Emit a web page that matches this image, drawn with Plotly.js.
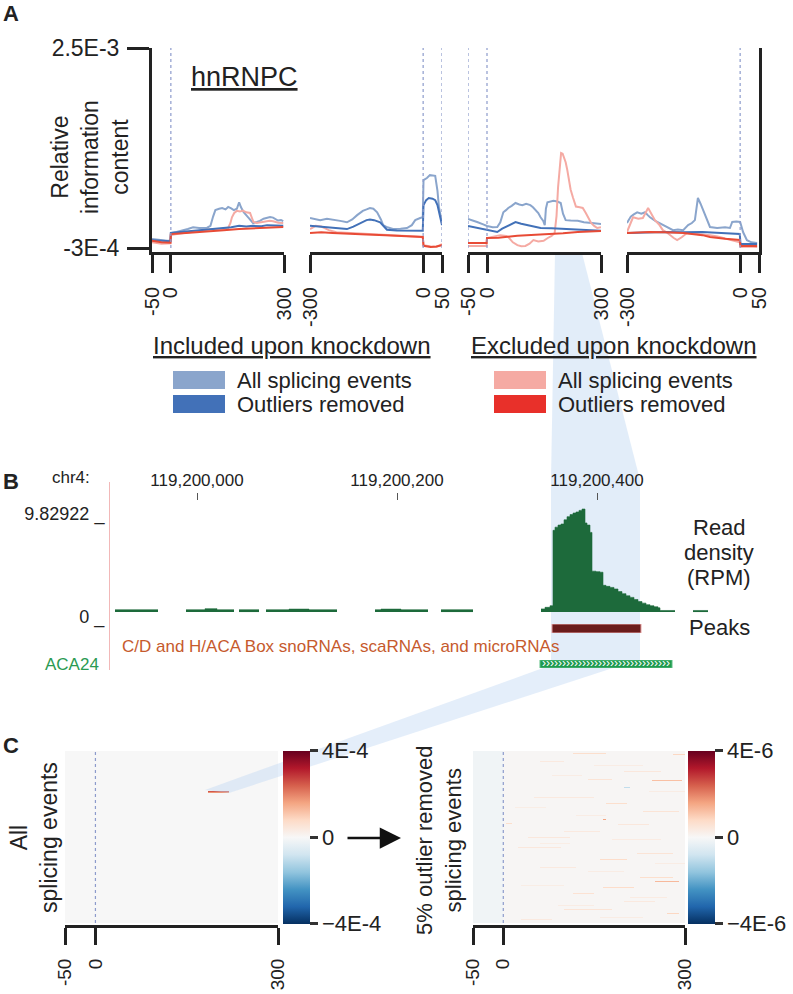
<!DOCTYPE html>
<html>
<head>
<meta charset="utf-8">
<script src="https://cdn.plot.ly/plotly-3.0.1.min.js"></script>
<style>html,body{margin:0;padding:0;background:#fff}#chart{width:793px;height:994px}</style>
</head>
<body>
<div id="chart"></div>
<script>
// ================= DATA =================
// ---- Panel A: relative information content (values in units of 1E-4) ----
const A_ticks1 = [-50, 0, 300];
const A_ticks2 = [-300, 0, 50];
const A_yTickVals = [-3, 25];
const A_yTickText = ['-3E-4', '2.5E-3'];

// Subplot 1 (-50..300)
const A1_incAll_x = [-50, -30, -10, -1, 0, 15, 32, 45, 59, 75, 96, 105, 112, 118, 128, 136, 145, 152, 160, 167, 175, 181, 186, 193, 205, 212, 218, 228, 236, 246, 255, 263, 271, 278, 284, 292, 298];
const A1_incAll_y = [-1.75, -1.9, -2.0, -2.0, -0.9, -0.75, -0.55, -0.35, -0.1, -0.2, -0.15, 0.1, 1.4, 2.3, 2.5, 2.6, 2.4, 2.75, 2.55, 2.3, 2.5, 3.4, 2.7, 2.0, 1.3, 0.9, 0.5, 0.65, 0.8, 1.1, 1.2, 1.35, 1.25, 1.0, 0.85, 0.9, 0.75];
const A1_excAll_x = [-50, -25, -1, 0, 20, 52, 80, 112, 140, 152, 158, 162, 168, 175, 183, 191, 200, 210, 215, 219, 228, 236, 250, 262, 271, 285, 298];
const A1_excAll_y = [-2.2, -2.4, -2.35, -1.2, -1.0, -0.75, -0.5, -0.35, -0.3, -0.2, 0.5, 1.3, 1.9, 2.2, 2.1, 2.25, 2.0, 1.9, 1.2, 0.65, 0.5, 0.55, 0.7, 0.8, 0.75, 0.55, 0.5];
const A1_incOut_x = [-50, -25, -1, 0, 30, 59, 90, 134, 160, 181, 200, 218, 240, 255, 275, 298];
const A1_incOut_y = [-1.9, -2.0, -2.05, -0.9, -0.75, -0.6, -0.45, -0.3, -0.1, 0.1, 0.0, 0.1, 0.05, 0.2, 0.15, 0.1];
const A1_excOut_x = [-50, -25, -1, 0, 40, 96, 140, 181, 230, 270, 298];
const A1_excOut_y = [-2.0, -2.2, -2.25, -1.05, -0.9, -0.62, -0.5, -0.35, -0.25, -0.1, -0.05];

// Subplot 2 (-300..50)
const A2_incAll_x = [-300, -285, -273, -255, -239, -220, -202, -188, -175, -160, -150, -141, -132, -122, -112, -106, -95, -80, -60, -43, -30, -21, -8, -1, 1, 10, 18, 25, 32, 38, 42, 50];
const A2_incAll_y = [1.2, 1.0, 0.9, 1.1, 1.0, 0.8, 0.6, 1.0, 1.6, 2.2, 2.4, 2.6, 2.5, 2.0, 1.0, 0.2, -0.1, -0.35, -0.3, -0.2, 0.2, 0.9, 1.2, 1.3, 6.5, 6.8, 7.2, 7.1, 7.1, 5.0, 2.7, 0.5];
const A2_excAll_x = [-300, -285, -270, -250, -230, -200, -150, -100, -50, -20, -1, 1, 20, 35, 50];
const A2_excAll_y = [-0.35, 0.1, 0.0, -0.5, -0.8, -0.9, -1.05, -1.2, -1.35, -1.4, -1.45, -2.6, -2.8, -2.85, -2.45];
const A2_incOut_x = [-300, -260, -230, -202, -185, -167, -150, -141, -130, -114, -104, -96, -70, -43, -20, -8, -1, 1, 8, 15, 25, 32, 38, 44, 50];
const A2_incOut_y = [0.1, -0.1, -0.2, -0.35, 0.0, 0.5, 0.9, 1.0, 0.9, 0.6, 0.0, -0.45, -0.55, -0.6, -0.55, -0.6, -0.6, 3.0, 3.7, 4.0, 3.9, 3.7, 3.0, 1.6, 0.2];
const A2_excOut_x = [-300, -270, -240, -200, -150, -100, -50, -20, -1, 1, 20, 35, 50];
const A2_excOut_y = [-0.9, -0.8, -0.9, -0.95, -1.1, -1.2, -1.3, -1.4, -1.45, -2.7, -2.85, -2.8, -2.6];

// Subplot 3 (-50..300)
const A3_incAll_x = [-50, -40, -26, -10, 0, 15, 27, 35, 43, 50, 56, 65, 75, 85, 93, 103, 114, 121, 128, 135, 141, 148, 152, 155, 159, 168, 175, 185, 194, 200, 207, 220, 239, 255, 266, 282, 300];
const A3_incAll_y = [1.06, 0.9, 0.64, 0.3, 0.08, -0.1, -0.06, 0.6, 2.0, 2.3, 2.6, 2.9, 3.3, 3.1, 3.0, 3.2, 3.0, 2.7, 2.3, 1.9, 1.3, 0.8, 0.2, 2.5, 3.4, 3.5, 3.6, 3.5, 3.3, 1.8, 0.9, 0.85, 0.8, 0.6, 0.5, 0.45, 0.35];
const A3_excAll_x = [-50, -25, -1, 0, 20, 35, 50, 56, 68, 80, 90, 101, 112, 122, 135, 149, 160, 170, 178, 183, 187, 191, 195, 199, 203, 207, 211, 215, 220, 226, 234, 244, 252, 260, 268, 274, 282, 290, 300];
const A3_excAll_y = [-2.72, -2.7, -2.72, -1.6, -1.4, -1.2, -1.3, -1.46, -2.2, -2.6, -2.75, -2.72, -2.4, -1.9, -2.1, -2.0, -1.6, -1.3, -0.9, 1.5, 5.5, 8.5, 10.3, 10.2, 9.7, 9.0, 8.0, 6.8, 5.2, 4.1, 2.8, 2.7, 2.6, 1.9, 1.2, 0.5, 0.1, -0.2, -0.1];
const A3_incOut_x = [-50, -25, 0, 15, 27, 40, 53, 65, 75, 90, 106, 125, 141, 170, 207, 250, 300];
const A3_incOut_y = [0.08, -0.2, -0.48, -0.6, -0.76, -0.3, 0.08, 0.4, 0.64, 0.4, 0.2, 0.0, -0.2, -0.25, -0.34, -0.45, -0.6];
const A3_excOut_x = [-50, -25, -1, 0, 30, 80, 120, 168, 200, 239, 270, 300];
const A3_excOut_y = [-2.3, -2.3, -2.3, -1.6, -1.55, -1.3, -1.2, -1.04, -0.95, -0.76, -0.7, -0.62];

// Subplot 4 (-300..50)
const A4_incAll_x = [-300, -290, -282, -273, -262, -252, -245, -239, -225, -205, -190, -178, -165, -151, -138, -128, -120, -112, -105, -98, -88, -80, -61, -40, -27, -21, -10, 0, 8, 18, 30, 45];
const A4_incAll_y = [0.5, 1.4, 1.7, 2.0, 1.8, 2.0, 1.6, 1.3, 0.8, 0.2, -0.2, -0.5, -0.4, -0.5, 0.2, 0.5, 0.9, 4.0, 3.2, 2.3, 0.8, -0.06, -0.2, -0.1, -0.2, 0.64, 0.7, 0.64, -0.8, -1.9, -2.2, -2.3];
const A4_excAll_x = [-300, -290, -284, -270, -258, -244, -235, -226, -215, -205, -195, -186, -176, -167, -155, -141, -120, -100, -80, -60, -45, -25, -8, -1, 1, 20, 45];
const A4_excAll_y = [-0.76, 0.5, 1.3, 1.1, 1.2, 2.6, 1.8, 0.9, 0.3, -0.5, -0.8, -1.2, -1.6, -1.9, -1.5, -0.9, -1.0, -1.1, -1.2, -1.4, -1.6, -1.9, -2.16, -2.2, -2.86, -2.8, -2.86];
const A4_incOut_x = [-300, -250, -200, -150, -100, -50, -20, -1, 1, 20, 45];
const A4_incOut_y = [-0.9, -0.8, -0.76, -0.8, -0.76, -0.9, -1.04, -1.05, -2.44, -2.4, -2.44];
const A4_excOut_x = [-300, -270, -240, -200, -150, -100, -80, -40, -1, 1, 20, 45];
const A4_excOut_y = [-0.9, -0.8, -0.76, -0.8, -0.9, -1.2, -1.46, -1.7, -1.88, -2.72, -2.7, -2.72];

const legendGroups = ['Included upon knockdown', 'Excluded upon knockdown'];
const legendItems = ['All splicing events', 'Outliers removed'];

// ---- Panel B: genome browser (positions are offsets from chr4:119,200,000; RPM) ----
const chromStart = 119200000;
const B_tickOffsets = [0, 200, 400];
const B_tickText = ['119,200,000', '119,200,200', '119,200,400'];
const B_yMax = 9.82922;
const densOffset = [-82, -39, null, -11, 8, 20, 37, null, 42, 62, null, 69, 92, 112, 140, null, 178, 184, 204, 231, null, 244, 276, null,
  344, 348, 353, 356, 358, 361, 364, 367, 370, 373, 376, 379, 382, 385, 388, 390, 393, 395, 399, 403, 406, 409, 413, 417, 421, 425, 429, 433, 437, 441, 445, 449, 453, 457, 461, 463, 478, null, 496, 511];
const densRPM = [0.22, 0.22, null, 0.22, 0.32, 0.22, 0.22, null, 0.22, 0.22, null, 0.22, 0.28, 0.22, 0.22, null, 0.22, 0.28, 0.22, 0.22, null, 0.22, 0.22, null,
  0.3, 0.45, 0.6, 7.8, 8.1, 8.3, 8.4, 8.8, 9.1, 9.3, 9.45, 9.55, 9.7, 9.83, 8.5, 8.3, 7.6, 3.9, 3.85, 3.8, 2.55, 2.45, 2.35, 2.2, 1.95, 1.75, 1.55, 1.4, 1.2, 1.0, 0.85, 0.7, 0.6, 0.5, 0.4, 0.15, 0.15, null, 0.15, 0.15];
const peakStart = 355, peakEnd = 444;
const geneStart = 343, geneEnd = 475, geneName = 'ACA24';
const geneTrackLabel = 'C/D and H/ACA Box snoRNAs, scaRNAs, and microRNAs';

// ---- Panel C: heatmaps (left in units of 1E-4, right in units of 1E-6) ----
const HM_X0 = -50, HM_X1 = 300, HM_DX = 5, HM_ROWS = 172;
const C_ticks = [-50, 0, 300];
const leftBaseX0 = [-50], leftBaseX1 = [300], leftBaseV = [0];
const leftRow = [40, 41], leftX0 = [183, 183], leftX1 = [218, 218], leftV = [2.5, 1.8];
const rightBaseX0 = [-50, 0], rightBaseX1 = [0, 300], rightBaseV = [-0.15, 0.05];
const rightRow = [2, 3, 10, 20, 28, 29, 36, 46, 52, 60, 68, 72, 73, 80, 86, 96, 102, 108, 116, 126, 130, 136, 142, 150, 158, 162, 168, 14, 24, 40, 56, 64, 88, 92, 112, 120, 134, 146, 154, 166];
const rightX0 = [115, 280, 60, 200, 138, 247, 200, 50, 170, 230, 163, 4, 190, 100, 40, 25, 220, 160, 60, 225, 248, 165, 115, 200, 100, 270, 30, 150, 80, 240, 20, 120, 180, 60, 250, 140, 30, 210, 90, 160];
const rightX1 = [171, 300, 100, 260, 181, 297, 210, 150, 205, 290, 170, 15, 240, 160, 110, 95, 280, 205, 120, 280, 292, 215, 150, 250, 180, 290, 80, 230, 130, 300, 70, 170, 260, 110, 300, 200, 100, 270, 150, 230];
const rightV = [0.7, 0.85, 0.4, 0.45, 0.55, 1.2, -1.0, 0.4, 0.7, 0.55, 1.6, 0.7, 0.45, 0.4, 0.45, 0.45, 0.55, 0.75, 0.4, 0.7, 1.3, 0.75, 0.6, 0.4, 0.55, 0.85, 0.4, 0.32, 0.32, 0.32, 0.3, 0.32, 0.35, 0.3, 0.32, 0.32, 0.3, 0.35, 0.32, 0.32];
const leftCbVals = [-4, 0, 4], leftCbText = ['\u22124E-4', '0', '4E-4'];
const rightCbVals = [-4, 0, 4], rightCbText = ['\u22124E-6', '0', '4E-6'];

// ================= BUILD =================
const W = 793, H = 994;
const FONT = 'Liberation Sans, Arial, Helvetica, sans-serif';
const INK = '#222';
const fx = p => p / W, fy = p => 1 - p / H;
const COL = {incAll: '#8aa5cc', excAll: '#f5aaa3', incOut: '#4271b8', excOut: '#e84b36'};
const RDBU = [[0, '#053061'], [0.1, '#2166ac'], [0.2, '#4393c3'], [0.3, '#92c5de'], [0.4, '#d1e5f0'], [0.5, '#f7f7f7'],
  [0.6, '#fddbc7'], [0.7, '#f4a582'], [0.8, '#d6604d'], [0.9, '#b2182b'], [1, '#67001f']];

const subA = [
  {xa: 'x', ya: 'y', s: {incAll: [A1_incAll_x, A1_incAll_y], excAll: [A1_excAll_x, A1_excAll_y], incOut: [A1_incOut_x, A1_incOut_y], excOut: [A1_excOut_x, A1_excOut_y]}},
  {xa: 'x2', ya: 'y', s: {incAll: [A2_incAll_x, A2_incAll_y], excAll: [A2_excAll_x, A2_excAll_y], incOut: [A2_incOut_x, A2_incOut_y], excOut: [A2_excOut_x, A2_excOut_y]}},
  {xa: 'x3', ya: 'y', s: {incAll: [A3_incAll_x, A3_incAll_y], excAll: [A3_excAll_x, A3_excAll_y], incOut: [A3_incOut_x, A3_incOut_y], excOut: [A3_excOut_x, A3_excOut_y]}},
  {xa: 'x4', ya: 'y2', s: {incAll: [A4_incAll_x, A4_incAll_y], excAll: [A4_excAll_x, A4_excAll_y], incOut: [A4_incOut_x, A4_incOut_y], excOut: [A4_excOut_x, A4_excOut_y]}}
];
const traces = [];
subA.forEach(sp => {
  ['incAll', 'excAll', 'incOut', 'excOut'].forEach(k => {
    traces.push({type: 'scatter', mode: 'lines', x: sp.s[k][0], y: sp.s[k][1], xaxis: sp.xa, yaxis: sp.ya,
      line: {color: COL[k], width: 2}, hoverinfo: 'skip', showlegend: false});
  });
});

// Panel B: density, one filled step trace per contiguous segment
let segX = [], segY = [];
function flushSeg() {
  if (segX.length) {
    traces.push({type: 'scatter', mode: 'lines', xaxis: 'x5', yaxis: 'y3', x: segX, y: segY,
      line: {shape: 'hv', width: 0.6, color: '#1d6a3b'}, fill: 'tozeroy', fillcolor: '#1d6a3b',
      hoverinfo: 'skip', showlegend: false});
  }
  segX = []; segY = [];
}
densOffset.forEach((v, i) => {
  if (v === null) { flushSeg(); return; }
  segX.push(chromStart + v); segY.push(densRPM[i]);
});
flushSeg();
traces.push({type: 'bar', orientation: 'h', xaxis: 'x5', yaxis: 'y4', y: [0.5], base: [chromStart + peakStart],
  x: [peakEnd - peakStart], width: [1], marker: {color: '#6a1c1c', line: {color: '#e6a0a0', width: 1}},
  hoverinfo: 'skip', showlegend: false});
traces.push({type: 'bar', orientation: 'h', xaxis: 'x5', yaxis: 'y5', y: [0.5], base: [chromStart + geneStart],
  x: [geneEnd - geneStart], width: [1], marker: {color: '#1f9a4e', line: {color: '#5cbf83', width: 1}},
  hoverinfo: 'skip', showlegend: false});
traces.push({type: 'scatter', mode: 'text', xaxis: 'x5', yaxis: 'y5', x: [chromStart + (geneStart + geneEnd) / 2], y: [0.5],
  text: ['\u203a'.repeat(32)], textfont: {family: FONT, size: 12, color: '#ffffff'}, textposition: 'middle center',
  hoverinfo: 'skip', showlegend: false, cliponaxis: false});

// Panel C heatmaps
function buildHeat(bx0, bx1, bv, sr, sx0, sx1, sv) {
  const nCols = Math.round((HM_X1 - HM_X0) / HM_DX);
  const z = [];
  for (let r = 0; r < HM_ROWS; r++) {
    const row = [];
    for (let c = 0; c < nCols; c++) {
      const xc = HM_X0 + (c + 0.5) * HM_DX;
      let v = 0;
      for (let b = 0; b < bv.length; b++) if (xc >= bx0[b] && xc < bx1[b]) v = bv[b];
      row.push(v);
    }
    z.push(row);
  }
  for (let k = 0; k < sr.length; k++) {
    for (let c = 0; c < nCols; c++) {
      const xc = HM_X0 + (c + 0.5) * HM_DX;
      if (xc >= sx0[k] && xc <= sx1[k]) z[sr[k]][c] = sv[k];
    }
  }
  return z;
}
function cbar(px, vals, text) {
  return {x: fx(px), xanchor: 'left', xref: 'paper', y: fy(837), yanchor: 'middle', yref: 'paper',
    len: 173, lenmode: 'pixels', thickness: 27, thicknessmode: 'pixels', xpad: 0, ypad: 0,
    outlinewidth: 0, ticks: 'outside', ticklen: 8, tickwidth: 3, tickcolor: '#333',
    tickvals: vals, ticktext: text, tickfont: {family: FONT, size: 22, color: INK}};
}
traces.push({type: 'heatmap', xaxis: 'x6', yaxis: 'y6',
  z: buildHeat(leftBaseX0, leftBaseX1, leftBaseV, leftRow, leftX0, leftX1, leftV),
  x0: HM_X0 + HM_DX / 2, dx: HM_DX, y0: 0.5, dy: 1, colorscale: RDBU, zmin: -4, zmax: 4, zsmooth: false,
  colorbar: cbar(283, leftCbVals, leftCbText), hoverinfo: 'skip'});
traces.push({type: 'heatmap', xaxis: 'x7', yaxis: 'y7',
  z: buildHeat(rightBaseX0, rightBaseX1, rightBaseV, rightRow, rightX0, rightX1, rightV),
  x0: HM_X0 + HM_DX / 2, dx: HM_DX, y0: 0.5, dy: 1, colorscale: RDBU, zmin: -4, zmax: 4, zsmooth: false,
  colorbar: cbar(688, rightCbVals, rightCbText), hoverinfo: 'skip'});

// ---- axes ----
const tf = (s) => ({family: FONT, size: s, color: INK});
function xA(p0, p1, rng, tv, anchor) {
  return {domain: [fx(p0), fx(p1)], range: rng, anchor: anchor, showline: true, linewidth: 3, linecolor: INK,
    ticks: 'outside', ticklen: 18, tickwidth: 3, tickcolor: INK, tickvals: tv, ticktext: tv.map(String),
    tickangle: -90, tickfont: tf(20), ticklabelstandoff: 6, showgrid: false, zeroline: false, fixedrange: true, automargin: false};
}
function xC(p0, p1) {
  return {domain: [fx(p0), fx(p1)], range: [HM_X0, HM_X1], anchor: 'free', position: fy(926), showline: true, linewidth: 3, linecolor: INK,
    ticks: 'outside', ticklen: 17, tickwidth: 3, tickcolor: INK, tickvals: C_ticks, ticktext: C_ticks.map(String),
    tickangle: -90, tickfont: tf(19), ticklabelstandoff: 6, showgrid: false, zeroline: false, fixedrange: true, automargin: false};
}
const yAdom = [fy(252), fy(48)];
const yArange = [-3.56, 25];
const layout = {
  width: W, height: H, margin: {l: 0, r: 0, t: 0, b: 0}, showlegend: false,
  paper_bgcolor: '#ffffff', plot_bgcolor: 'rgba(0,0,0,0)', font: {family: FONT, color: INK},
  xaxis: xA(152, 284, [-50, 300], A_ticks1, 'y'),
  xaxis2: xA(310, 442, [-300, 50], A_ticks2, 'y'),
  xaxis3: xA(468, 601, [-50, 300], A_ticks1, 'y'),
  xaxis4: xA(627, 759, [-300, 50], A_ticks2, 'y2'),
  yaxis: {domain: yAdom, range: yArange, anchor: 'x', showline: true, linewidth: 3, linecolor: INK,
    ticks: 'outside', ticklen: 22, tickwidth: 3, tickcolor: INK, tickvals: A_yTickVals, ticktext: A_yTickText,
    tickfont: tf(23), ticklabelstandoff: 3, showgrid: false, zeroline: false, fixedrange: true, automargin: false},
  yaxis2: {domain: yAdom, range: yArange, anchor: 'x4', side: 'right', showline: true, linewidth: 3, linecolor: INK,
    ticks: '', showticklabels: false, showgrid: false, zeroline: false, fixedrange: true},
  xaxis5: {domain: [fx(110), fx(715)], range: [chromStart - 87, chromStart + 518], anchor: 'free', position: fy(500), side: 'top',
    tickvals: B_tickOffsets.map(v => chromStart + v), ticktext: B_tickText, ticks: 'outside', ticklen: 7, tickwidth: 1,
    tickcolor: '#555', tickfont: tf(17), showline: false, showgrid: false, zeroline: false, fixedrange: true, automargin: false},
  yaxis3: {domain: [fy(670), fy(482)], range: [-5.53, 12.41], anchor: 'x5', showline: true, linecolor: '#f2b8b8', linewidth: 1,
    ticks: '', tickvals: [0, B_yMax], ticktext: ['0 _', B_yMax + ' _'], tickfont: tf(18), ticklabelshift: 5, ticklabelstandoff: 1,
    showgrid: false, zeroline: false, fixedrange: true, automargin: false},
  yaxis4: {domain: [fy(633), fy(624)], range: [0, 1], anchor: 'x5', visible: false, fixedrange: true},
  yaxis5: {domain: [fy(668), fy(660)], range: [0, 1], anchor: 'x5', visible: false, fixedrange: true},
  xaxis6: xC(65, 278),
  yaxis6: {domain: [fy(923), fy(751)], range: [HM_ROWS, 0], anchor: 'x6', visible: false, fixedrange: true},
  xaxis7: xC(473, 685),
  yaxis7: {domain: [fy(923), fy(751)], range: [HM_ROWS, 0], anchor: 'x7', visible: false, fixedrange: true},
  bargap: 0
};

// ---- shapes ----
const dot = (xref, yref, xv, y0, y1) => ({type: 'line', xref: xref, yref: yref, x0: xv, x1: xv, y0: y0, y1: y1,
  line: {color: '#8d9bcc', width: 1.2, dash: 'dot'}, layer: 'above'});
const P = (px, py) => fx(px).toFixed(5) + ',' + fy(py).toFixed(5);
const shapes = [
  {type: 'path', xref: 'paper', yref: 'paper', layer: 'below', line: {width: 0},
    fillcolor: 'rgba(198,220,244,0.5)',
    path: 'M' + P(555, 253) + 'L' + P(582, 253) + 'L' + P(640, 480) + 'L' + P(640, 660) + 'L' + P(551, 660) + 'L' + P(551, 480) + 'Z'},
  {type: 'path', xref: 'paper', yref: 'paper', layer: 'above', line: {width: 0},
    fillcolor: 'rgba(190,214,242,0.42)',
    path: 'M' + P(543, 668) + 'L' + P(613, 668) + 'L' + P(229, 793) + 'L' + P(205, 790) + 'Z'},
  dot('x', 'y', 0, -3, 25),
  dot('x2', 'y', 0, -3, 25), dot('x2', 'y', 50, -3, 25),
  dot('x3', 'y', -50, -3, 25), dot('x3', 'y', 0, -3, 25),
  dot('x4', 'y2', 0, -3, 25),
  dot('x6', 'y6 domain', 0, 0, 1),
  dot('x7', 'y7 domain', 0, 0, 1)
];
const rect = (x0, y0, x1, y1, c) => ({type: 'rect', xref: 'paper', yref: 'paper', x0: fx(x0), x1: fx(x1), y0: fy(y1), y1: fy(y0),
  fillcolor: c, line: {width: 0}});
shapes.push(rect(173, 371, 225, 389, COL.incAll), rect(173, 395, 225, 413, COL.incOut),
  rect(494, 371, 546, 389, COL.excAll), rect(494, 395, 546, 413, '#e8302a'));
layout.shapes = shapes;

// ---- annotations ----
function ann(text, px, py, size, o) {
  return Object.assign({text: text, x: fx(px), y: fy(py), xref: 'paper', yref: 'paper', showarrow: false,
    xanchor: 'center', yanchor: 'middle', font: {family: FONT, size: size, color: (o && o.color) || INK}}, o || {});
}
const annotations = [
  ann('<b>A</b>', 11, 14, 22), ann('<b>B</b>', 11, 481, 22), ann('<b>C</b>', 11, 745, 22),
  ann('<u>hnRNPC</u>', 244, 77, 27),
  ann('Relative<br>information<br>content', 90, 157, 23, {textangle: -90}),
  ann('<u>' + legendGroups[0] + '</u>', 292, 345, 24), ann('<u>' + legendGroups[1] + '</u>', 614, 345, 24),
  ann(legendItems[0], 235, 380, 22, {xanchor: 'left'}), ann(legendItems[1], 235, 404, 22, {xanchor: 'left'}),
  ann(legendItems[0], 556, 380, 22, {xanchor: 'left'}), ann(legendItems[1], 556, 404, 22, {xanchor: 'left'}),
  ann('chr4:', 92, 478, 17, {xanchor: 'right'}),
  ann(geneTrackLabel, 340, 646, 17, {color: '#c65a2d'}),
  ann(geneName, 72, 664, 17, {color: '#2a9a52'}),
  ann('Read', 719, 527, 22), ann('density', 719, 552, 22), ann('(RPM)', 719, 577, 22),
  ann('Peaks', 719, 627, 22),
  ann('All<br>splicing events', 34, 838, 23, {textangle: -90}),
  ann('5% outlier removed<br>splicing events', 439, 840, 22, {textangle: -90}),
  {x: fx(401), y: fy(838), xref: 'paper', yref: 'paper', text: '', showarrow: true, ax: -55, ay: 0,
    arrowhead: 2, arrowsize: 1.7, arrowwidth: 2.5, arrowcolor: '#111', standoff: 0}
];
layout.annotations = annotations;

Plotly.newPlot('chart', traces, layout, {staticPlot: true, displayModeBar: false});
</script>
</body>
</html>
